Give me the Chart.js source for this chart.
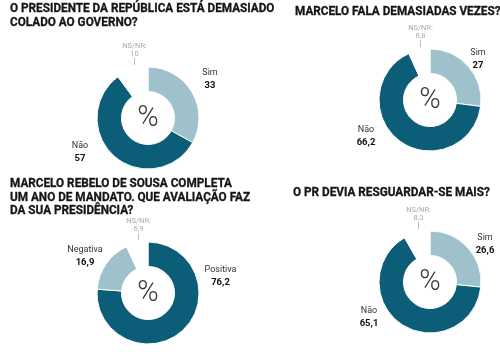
<!DOCTYPE html>
<html><head><meta charset="utf-8">
<script src="https://cdn.jsdelivr.net/npm/chart.js@4.4.0/dist/chart.umd.min.js"></script>
<style>
html,body{margin:0;padding:0;background:#fff;}
#wrap{position:relative;width:500px;height:355px;overflow:hidden;background:#fff;}
.title{position:absolute;font-family:Roboto,sans-serif;font-weight:700;font-size:12.5px;line-height:13.5px;color:#161616;white-space:nowrap;z-index:2;transform:scaleX(0.94);transform-origin:0 0;-webkit-text-stroke:0.3px #161616;}
canvas{position:absolute;}
</style></head><body>
<div id="wrap"></div>
<script>
// ---- data ----
const title1 = ["O PRESIDENTE DA REPÚBLICA ESTÁ DEMASIADO", "COLADO AO GOVERNO?"];
const labels1 = ["Sim", "Não", "NS/NR:"];
const values1 = [33, 57, 10];

const title2 = ["MARCELO FALA DEMASIADAS VEZES?"];
const labels2 = ["Sim", "Não", "NS/NR:"];
const values2 = [27, 66.2, 6.8];

const title3 = ["MARCELO REBELO DE SOUSA COMPLETA", "UM ANO DE MANDATO. QUE AVALIAÇÃO FAZ", "DA SUA PRESIDÊNCIA?"];
const labels3 = ["Positiva", "Negativa", "NS/NR:"];
const values3 = [76.2, 16.9, 6.9];

const title4 = ["O PR DEVIA RESGUARDAR-SE MAIS?"];
const labels4 = ["Sim", "Não", "NS/NR:"];
const values4 = [26.6, 65.1, 8.3];

// ---- styles / layout ----
const DARK = "#0b5d78", LIGHT = "#9ec1cc", NONE = "rgba(255,255,255,0)";
const charts = [
  {title: title1, labels: labels1, values: values1, colors: [LIGHT, DARK, NONE],
   titlePos: [10, 1], center: [147.5, 118], lab: [[62, -39], [-68, 34]]},
  {title: title2, labels: labels2, values: values2, colors: [LIGHT, DARK, NONE],
   titlePos: [295, 4], center: [430, 100], lab: [[48, -41], [-64, 36]]},
  {title: title3, labels: labels3, values: values3, colors: [DARK, LIGHT, NONE],
   titlePos: [10, 176], center: [147.5, 293], lab: [[72.5, -17], [-63, -37]]},
  {title: title4, labels: labels4, values: values4, colors: [LIGHT, DARK, NONE],
   titlePos: [293, 185], center: [430, 281.5], lab: [[55, -38], [-61, 35]]}
];
const R = 51.5, CW = 220, CH = 180;
const fmt = v => String(v).replace(".", ",");

const labelPlugin = {
  id: "donutLabels",
  afterDraw(chart, args, opts) {
    const ctx = chart.ctx;
    const meta = chart.getDatasetMeta(0);
    const arcs = meta.data;
    const ds = chart.data.datasets[0];
    const cx = arcs[0].x, cy = arcs[0].y, r = arcs[0].outerRadius;
    ctx.save();
    ctx.textAlign = "center";
    ctx.textBaseline = "middle";
    // centre symbol
    ctx.fillStyle = "#3a3a3a";
    ctx.font = "300 29px Roboto, sans-serif";
    ctx.fillText("%", cx, cy + 1);
    // main labels
    for (let i = 0; i < arcs.length - 1; i++) {
      const [dx, dy] = opts.lab[i];
      ctx.fillStyle = "#333";
      ctx.font = "9px Roboto, sans-serif";
      ctx.fillText(chart.data.labels[i], cx + dx, cy + dy - 6.5);
      ctx.fillStyle = "#111";
      ctx.font = "bold 9.5px Roboto, sans-serif";
      ctx.fillText(fmt(ds.data[i]), cx + dx, cy + dy + 6.5);
    }
    // NS/NR label
    const last = arcs[arcs.length - 1];
    const mid = (last.startAngle + last.endAngle) / 2;
    const nx = Math.round(cx + Math.cos(mid) * r * 0.9) + 0.5;
    const top = cy - r;
    ctx.strokeStyle = "#bbb";
    ctx.lineWidth = 1;
    ctx.beginPath();
    ctx.moveTo(nx, top - 9);
    ctx.lineTo(nx, top - 2);
    ctx.stroke();
    ctx.fillStyle = "#aaa";
    ctx.font = "7.5px Roboto, sans-serif";
    ctx.fillText(chart.data.labels[arcs.length - 1], nx, top - 21);
    ctx.fillText(fmt(ds.data[arcs.length - 1]), nx, top - 13);
    ctx.restore();
  }
};

const wrap = document.getElementById("wrap");
charts.forEach(c => {
  const t = document.createElement("div");
  t.className = "title";
  t.style.left = c.titlePos[0] + "px";
  t.style.top = c.titlePos[1] + "px";
  t.innerHTML = c.title.join("<br>");
  wrap.appendChild(t);

  const cv = document.createElement("canvas");
  cv.width = CW; cv.height = CH;
  cv.style.width = CW + "px"; cv.style.height = CH + "px";
  cv.style.left = (c.center[0] - CW / 2) + "px";
  cv.style.top = (c.center[1] - CH / 2) + "px";
  wrap.appendChild(cv);

  const padX = CW / 2 - R, padY = CH / 2 - R;
  new Chart(cv, {
    type: "doughnut",
    data: {
      labels: c.labels,
      datasets: [{data: c.values, backgroundColor: c.colors, borderColor: "#fff", borderWidth: 1}]
    },
    options: {
      responsive: false,
      animation: false,
      events: [],
      cutout: "52%",
      layout: {padding: {left: padX, right: padX, top: padY, bottom: padY}},
      plugins: {legend: {display: false}, tooltip: {enabled: false}, donutLabels: {lab: c.lab}}
    },
    plugins: [labelPlugin]
  });
});
</script>
</body></html>
